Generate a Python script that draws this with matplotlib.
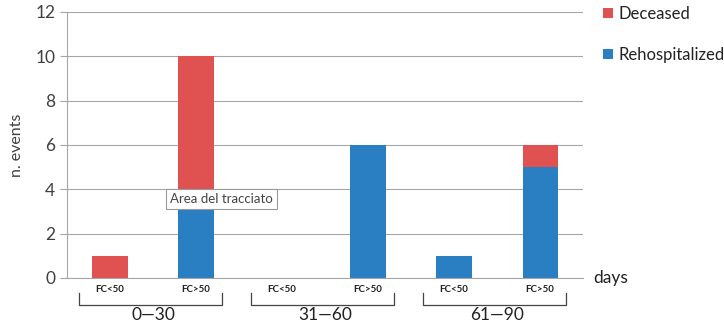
import matplotlib.pyplot as plt
from matplotlib.transforms import blended_transform_factory

plt.rcParams["font.family"] = ["Lato", "DejaVu Sans"]

# Dati
subgroups = ["FC<50", "FC>50", "FC<50", "FC>50", "FC<50", "FC>50"]
groups = ["0\u201430", "31\u201460", "61\u201490"]
rehospitalized = [0, 4, 0, 6, 1, 5]
deceased = [1, 6, 0, 0, 0, 1]

COLOR_DECEASED = "#e05252"
COLOR_REHOSP = "#2a7fc2"
COLOR_GRID = "#a6a6a6"
COLOR_TEXT = "#404040"

fig = plt.figure(figsize=(7.24, 3.24), dpi=100)
ax = fig.add_axes([0.0925, 0.142, 0.713, 0.821])

x = list(range(len(subgroups)))
ax.bar(x, rehospitalized, width=0.41, color=COLOR_REHOSP, label="Rehospitalized", zorder=2)
ax.bar(x, deceased, width=0.41, bottom=rehospitalized, color=COLOR_DECEASED, label="Deceased", zorder=2)

ax.set_xlim(-0.5, len(subgroups) - 0.5)
ax.set_ylim(0, 12)
ax.set_yticks(range(0, 13, 2))
ax.grid(True, axis="y", color=COLOR_GRID, linewidth=0.8)
ax.set_axisbelow(True)
for side in ["top", "right"]:
    ax.spines[side].set_visible(False)
ax.spines["left"].set_color(COLOR_GRID)
ax.spines["bottom"].set_color(COLOR_GRID)
ax.tick_params(axis="y", colors=COLOR_GRID, labelcolor=COLOR_TEXT, labelsize=12.5, length=5, width=0.8)
ax.set_xticks([])
ax.set_ylabel("n. events", color=COLOR_TEXT, fontsize=11.5, labelpad=8)

# etichette sotto l'asse: sottogruppi, parentesi e gruppi
trans = blended_transform_factory(ax.transData, ax.transAxes)
for i, sub in enumerate(subgroups):
    ax.text(i, -0.045, sub, transform=trans, ha="center", va="center", fontsize=7,
            fontweight="bold", color="#222222")
for g, name in enumerate(groups):
    left = 2 * g - 0.36
    right = 2 * g + 1.3
    ax.plot([left, left, right, right], [-0.058, -0.1, -0.1, -0.058], transform=trans,
            color="#444444", linewidth=0.9, clip_on=False)
    ax.text(2 * g + 0.5, -0.14, name, transform=trans, ha="center", va="center",
            fontsize=12.5, color="#222222")

ax.text(1.02, 0.0, "days", transform=ax.transAxes, ha="left", va="center",
        fontsize=12.5, color="#222222")

# tooltip di Excel presente nell'immagine
ax.text(0.7, 3.55, "Area del tracciato", ha="left", va="center", fontsize=9.5,
        color="#444444", zorder=5,
        bbox=dict(boxstyle="square,pad=0.3", facecolor="white", edgecolor="#9a9a9a", linewidth=0.8))

handles, labels = ax.get_legend_handles_labels()
ax.legend(handles[::-1], labels[::-1], loc="upper left", bbox_to_anchor=(1.01, 1.08),
          frameon=False, fontsize=12, handlelength=0.6, handleheight=0.6,
          handletextpad=0.3, labelspacing=1.5, labelcolor="#222222")

fig.savefig("out.png", dpi=100)
